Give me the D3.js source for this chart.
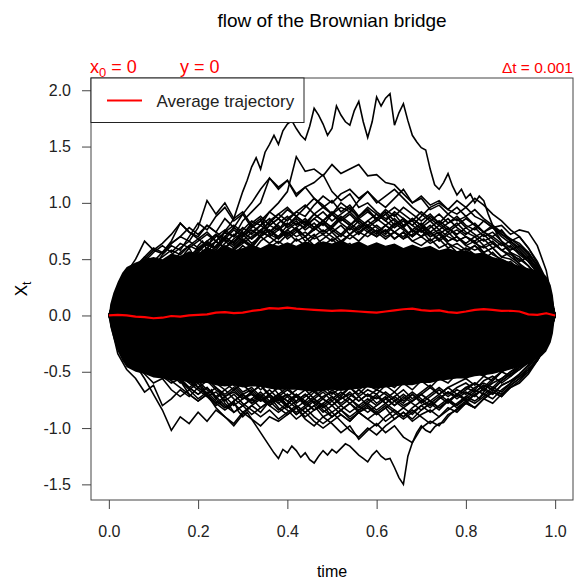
<!DOCTYPE html>
<html>
<head>
<meta charset="utf-8">
<script src="https://cdn.jsdelivr.net/npm/d3@7"></script>
<style>
  html, body { margin: 0; padding: 0; background: #fff; }
  svg { display: block; font-family: "Liberation Sans", Arial, sans-serif; }
</style>
</head>
<body>
<svg id="chart" width="579" height="581"></svg>
<script>
// ---- axis ticks ----
const xTicks = [0, 0.2, 0.4, 0.6, 0.8, 1.0];
const yTicks = [-1.5, -1.0, -0.5, 0, 0.5, 1.0, 1.5, 2.0];

// ---- dense core of the bundle: upper / lower edge of the solid band ----
const coreTime = [0, 0.003, 0.01, 0.02, 0.03, 0.04,
  0.06, 0.08, 0.10, 0.12, 0.14, 0.16, 0.18, 0.20, 0.22, 0.24,
  0.26, 0.28, 0.30, 0.32, 0.34, 0.36, 0.38, 0.40, 0.42, 0.44,
  0.46, 0.48, 0.50, 0.52, 0.54, 0.56, 0.58, 0.60, 0.62, 0.64,
  0.66, 0.68, 0.70, 0.72, 0.74, 0.76, 0.78, 0.80, 0.82, 0.84,
  0.86, 0.88, 0.90, 0.92, 0.94, 0.96,
  0.97, 0.98, 0.99, 0.995, 1];
const coreUpper = [0, 0.1, 0.2, 0.3, 0.38, 0.43,
  0.47, 0.5, 0.52, 0.5, 0.55, 0.53, 0.57, 0.55, 0.6, 0.58,
  0.62, 0.58, 0.6, 0.63, 0.6, 0.64, 0.62, 0.65, 0.62, 0.66,
  0.63, 0.66, 0.64, 0.67, 0.63, 0.66, 0.62, 0.65, 0.62, 0.64,
  0.6, 0.63, 0.6, 0.62, 0.58, 0.6, 0.57, 0.58, 0.55, 0.56,
  0.52, 0.5, 0.47, 0.44, 0.42, 0.4,
  0.38, 0.35, 0.27, 0.18, 0];
const coreLower = [0, -0.1, -0.2, -0.32, -0.4, -0.46,
  -0.5, -0.52, -0.55, -0.56, -0.58, -0.57, -0.6, -0.6, -0.6, -0.62,
  -0.63, -0.62, -0.64, -0.63, -0.63, -0.65, -0.66, -0.66, -0.66, -0.67,
  -0.68, -0.67, -0.66, -0.67, -0.66, -0.65, -0.64, -0.65, -0.64, -0.63,
  -0.62, -0.62, -0.6, -0.6, -0.58, -0.57, -0.56, -0.56, -0.54, -0.53,
  -0.52, -0.5, -0.48, -0.46, -0.43, -0.38,
  -0.36, -0.32, -0.24, -0.16, 0];

// ---- the two extreme trajectories, sampled every 0.01 ----
const highestPath = [
  0, 0.08, 0.05, 0.14, 0.2, 0.15, 0.24, 0.3, 0.26, 0.34,
  0.4, 0.35, 0.42, 0.48, 0.43, 0.52, 0.46, 0.55, 0.6, 0.53,
  0.62, 0.66, 0.58, 0.68, 0.72, 0.66, 0.75, 0.8, 0.86, 0.98,
  1.1, 1.2, 1.32, 1.4, 1.3, 1.45, 1.52, 1.6, 1.52, 1.64,
  1.7, 1.73, 1.66, 1.6, 1.56, 1.68, 1.84, 1.78, 1.7, 1.6,
  1.66, 1.86, 1.78, 1.72, 1.69, 1.82, 1.9, 1.72, 1.58, 1.72,
  1.94, 1.86, 1.93, 1.97, 1.69, 1.8, 1.88, 1.73, 1.6, 1.54,
  1.49, 1.47, 1.3, 1.16, 1.12, 1.18, 1.26, 1.15, 1.07, 1.12,
  1.04, 1.08, 1.0, 1.06, 1.02, 0.9, 0.8, 0.72, 0.66, 0.6,
  0.56, 0.5, 0.46, 0.4, 0.35, 0.3, 0.28, 0.2, 0.16, 0.08,
  0];
const lowestPath = [
  0, -0.06, -0.12, -0.08, -0.16, -0.22, -0.18, -0.28, -0.32, -0.26,
  -0.34, -0.4, -0.36, -0.44, -0.5, -0.46, -0.55, -0.5, -0.58, -0.62,
  -0.56, -0.64, -0.7, -0.66, -0.74, -0.7, -0.78, -0.82, -0.76, -0.85,
  -0.9, -0.86, -0.92, -0.98, -1.04, -1.1, -1.16, -1.22, -1.27, -1.19,
  -1.22, -1.16, -1.2, -1.26, -1.22, -1.28, -1.31, -1.25, -1.2, -1.24,
  -1.19, -1.22, -1.18, -1.14, -1.16, -1.2, -1.24, -1.27, -1.3, -1.24,
  -1.2, -1.25, -1.28, -1.27, -1.35, -1.44, -1.5, -1.25, -1.13, -1.04,
  -0.98, -1.02, -1.04, -0.99, -0.96, -0.95, -0.9, -0.86, -0.83, -0.8,
  -0.78, -0.74, -0.7, -0.74, -0.68, -0.62, -0.58, -0.54, -0.5, -0.46,
  -0.42, -0.4, -0.36, -0.32, -0.28, -0.24, -0.2, -0.16, -0.1, -0.05,
  0];

// ---- trajectories above the core, sampled every 0.02 ----
const upperPaths = [
  [0, 0.22, 0.3, 0.42, 0.5, 0.58, 0.55, 0.64, 0.7, 0.66,
   0.78, 1.02, 0.9, 1.0, 0.86, 0.92, 0.8, 0.86, 0.74, 0.8,
   0.7, 0.76, 0.66, 0.72, 0.62, 0.68, 0.6, 0.64, 0.55, 0.6,
   0.5, 0.56, 0.48, 0.52, 0.44, 0.5, 0.42, 0.46, 0.38, 0.44,
   0.36, 0.4, 0.32, 0.36, 0.28, 0.3, 0.22, 0.26, 0.18, 0.12, 0],
  [0, 0.18, 0.34, 0.4, 0.52, 0.6, 0.56, 0.66, 0.82, 0.74,
   0.7, 0.8, 0.74, 0.86, 0.78, 0.9, 1.0, 1.12, 1.22, 1.14,
   1.2, 1.08, 1.14, 1.04, 0.96, 1.02, 0.92, 0.98, 0.88, 0.94,
   0.84, 0.9, 0.8, 0.86, 0.74, 0.8, 0.7, 0.74, 0.66, 0.7,
   0.62, 0.66, 0.56, 0.6, 0.52, 0.5, 0.44, 0.4, 0.32, 0.24, 0],
  [0, 0.1, 0.2, 0.16, 0.28, 0.36, 0.3, 0.42, 0.5, 0.46,
   0.56, 0.52, 0.62, 0.7, 0.64, 0.76, 0.84, 0.8, 0.92, 1.0,
   1.1, 1.41, 1.28, 1.3, 1.24, 1.34, 1.26, 1.3, 1.34, 1.24,
   1.25, 1.18, 1.16, 1.08, 1.0, 1.04, 0.94, 0.98, 0.9, 0.84,
   0.88, 0.8, 0.74, 0.78, 0.7, 0.64, 0.56, 0.5, 0.4, 0.28, 0],
  [0, 0.14, 0.26, 0.2, 0.32, 0.4, 0.36, 0.46, 0.42, 0.52,
   0.6, 0.56, 0.66, 0.74, 0.7, 0.84, 0.92, 1.0, 1.22, 1.12,
   1.2, 1.06, 1.14, 1.18, 1.25, 1.1, 1.02, 1.08, 0.96, 1.0,
   0.92, 0.86, 0.9, 0.8, 0.84, 0.76, 0.7, 0.74, 0.66, 0.7,
   0.62, 0.58, 0.62, 0.54, 0.5, 0.46, 0.4, 0.36, 0.3, 0.2, 0],
  [0, -0.05, 0.06, 0.14, 0.1, 0.2, 0.28, 0.24, 0.34, 0.4,
   0.36, 0.46, 0.52, 0.48, 0.58, 0.66, 0.62, 0.72, 0.8, 0.76,
   0.86, 0.92, 0.88, 0.98, 1.06, 1.0, 1.08, 1.12, 1.04, 1.1,
   1.02, 0.96, 1.04, 1.12, 1.0, 1.06, 0.98, 1.02, 0.94, 0.9,
   0.96, 0.88, 0.84, 0.78, 0.8, 0.72, 0.76, 0.74, 0.62, 0.4, 0],
  [0, 0.2, 0.28, 0.36, 0.46, 0.42, 0.54, 0.62, 0.58, 0.7,
   0.82, 0.76, 0.88, 0.96, 0.84, 0.9, 0.78, 0.84, 0.72, 0.78,
   0.68, 0.74, 0.8, 0.86, 0.92, 0.84, 0.9, 0.96, 0.86, 0.8,
   0.74, 0.8, 0.86, 0.78, 0.7, 0.76, 0.66, 0.72, 0.64, 0.6,
   0.56, 0.62, 0.54, 0.5, 0.44, 0.48, 0.4, 0.34, 0.26, 0.16, 0],
  [0, 0.12, 0.08, 0.2, 0.26, 0.22, 0.32, 0.38, 0.34, 0.44,
   0.5, 0.46, 0.56, 0.5, 0.6, 0.66, 0.6, 0.7, 0.76, 0.7,
   0.8, 0.86, 0.8, 0.9, 0.96, 0.9, 1.0, 0.94, 0.88, 0.96,
   0.9, 0.84, 0.92, 0.86, 0.8, 0.88, 0.96, 1.0, 0.94, 1.02,
   0.96, 1.04, 0.98, 0.9, 0.84, 0.76, 0.7, 0.6, 0.46, 0.3, 0],
  [0, 0.08, 0.16, 0.24, 0.2, 0.3, 0.38, 0.46, 0.4, 0.5,
   0.56, 0.64, 0.58, 0.68, 0.62, 0.7, 0.76, 0.7, 0.8, 0.86,
   0.78, 0.84, 0.76, 0.82, 0.74, 0.8, 0.88, 0.82, 0.76, 0.84,
   0.78, 0.72, 0.8, 0.86, 0.8, 0.74, 0.8, 0.72, 0.78, 0.7,
   0.64, 0.7, 0.62, 0.66, 0.58, 0.62, 0.54, 0.48, 0.38, 0.26, 0],
  [0, 0.26, 0.38, 0.5, 0.66, 0.58, 0.64, 0.72, 0.82, 0.74,
   0.68, 0.74, 0.66, 0.6, 0.66, 0.72, 0.64, 0.7, 0.76, 0.68,
   0.74, 0.66, 0.7, 0.62, 0.68, 0.74, 0.66, 0.72, 0.8, 0.74,
   0.7, 0.76, 0.68, 0.74, 0.66, 0.7, 0.64, 0.68, 0.6, 0.64,
   0.58, 0.62, 0.56, 0.6, 0.52, 0.56, 0.48, 0.52, 0.4, 0.3, 0],
  [0, 0.04, 0.14, 0.1, 0.2, 0.16, 0.26, 0.34, 0.3, 0.4,
   0.46, 0.42, 0.5, 0.58, 0.54, 0.62, 0.56, 0.66, 0.72, 0.68,
   0.76, 0.82, 0.78, 0.86, 0.8, 0.9, 0.96, 0.92, 1.02, 1.1,
   1.0, 1.06, 1.12, 1.04, 0.96, 0.9, 0.84, 0.9, 0.82, 0.86,
   0.78, 0.82, 0.74, 0.7, 0.76, 0.66, 0.6, 0.52, 0.42, 0.28, 0],
  [0, 0.1, 0.18, 0.12, 0.22, 0.3, 0.26, 0.36, 0.3, 0.4,
   0.36, 0.44, 0.5, 0.46, 0.54, 0.5, 0.58, 0.52, 0.6, 0.66,
   0.6, 0.68, 0.62, 0.7, 0.76, 0.7, 0.64, 0.72, 0.66, 0.74,
   0.8, 0.74, 0.82, 0.76, 0.7, 0.78, 0.84, 0.76, 0.82, 0.88,
   0.8, 0.76, 0.84, 0.78, 0.72, 0.68, 0.62, 0.56, 0.44, 0.3, 0],
  [0, 0.16, 0.24, 0.32, 0.28, 0.4, 0.48, 0.44, 0.56, 0.62,
   0.58, 0.66, 0.6, 0.7, 0.78, 0.72, 0.82, 0.88, 0.8, 0.86,
   0.94, 0.88, 0.96, 1.04, 0.98, 0.9, 0.84, 0.9, 0.82, 0.76,
   0.7, 0.76, 0.68, 0.74, 0.66, 0.62, 0.68, 0.6, 0.64, 0.56,
   0.6, 0.54, 0.5, 0.56, 0.48, 0.44, 0.4, 0.36, 0.28, 0.18, 0],
  [0, 0.14, 0.22, 0.3, 0.38, 0.46, 0.52, 0.58, 0.54, 0.62,
   0.68, 0.62, 0.7, 0.76, 0.7, 0.78, 0.72, 0.8, 0.74, 0.82,
   0.88, 0.8, 0.86, 0.78, 0.84, 0.9, 0.82, 0.76, 0.84, 0.78,
   0.72, 0.8, 0.74, 0.68, 0.76, 0.82, 0.74, 0.68, 0.74, 0.66,
   0.7, 0.64, 0.68, 0.6, 0.64, 0.56, 0.52, 0.44, 0.36, 0.24, 0],
  [0, 0.06, 0.12, 0.22, 0.3, 0.26, 0.36, 0.42, 0.5, 0.46,
   0.54, 0.6, 0.66, 0.6, 0.68, 0.74, 0.68, 0.76, 0.82, 0.9,
   0.84, 0.92, 0.98, 0.9, 0.84, 0.92, 0.86, 0.8, 0.88, 0.94,
   0.86, 0.92, 0.84, 0.78, 0.86, 0.8, 0.74, 0.8, 0.86, 0.78,
   0.72, 0.78, 0.7, 0.74, 0.66, 0.6, 0.56, 0.48, 0.38, 0.26, 0],
  [0, 0.2, 0.32, 0.42, 0.48, 0.56, 0.62, 0.56, 0.64, 0.6,
   0.66, 0.72, 0.66, 0.74, 0.8, 0.74, 0.68, 0.74, 0.7, 0.64,
   0.72, 0.78, 0.84, 0.78, 0.72, 0.78, 0.72, 0.8, 0.86, 0.92,
   0.86, 0.94, 0.88, 0.96, 0.9, 0.84, 0.9, 0.82, 0.76, 0.82,
   0.74, 0.7, 0.74, 0.68, 0.62, 0.66, 0.58, 0.5, 0.42, 0.28, 0],
  [0, 0.1, 0.2, 0.28, 0.36, 0.32, 0.42, 0.5, 0.46, 0.56,
   0.52, 0.6, 0.56, 0.64, 0.72, 0.66, 0.74, 0.8, 0.86, 0.78,
   0.72, 0.78, 0.7, 0.76, 0.82, 0.76, 0.7, 0.78, 0.72, 0.8,
   0.86, 0.8, 0.74, 0.7, 0.76, 0.7, 0.78, 0.84, 0.78, 0.72,
   0.78, 0.72, 0.66, 0.7, 0.64, 0.58, 0.62, 0.54, 0.44, 0.3, 0],
  [0, 0.24, 0.34, 0.44, 0.52, 0.48, 0.56, 0.64, 0.7, 0.78,
   0.72, 0.8, 0.74, 0.68, 0.76, 0.7, 0.78, 0.84, 0.92, 0.86,
   0.8, 0.88, 0.82, 0.76, 0.82, 0.74, 0.8, 0.72, 0.78, 0.84,
   0.9, 0.84, 0.78, 0.84, 0.76, 0.7, 0.74, 0.66, 0.72, 0.76,
   0.7, 0.66, 0.72, 0.64, 0.58, 0.52, 0.46, 0.4, 0.32, 0.2, 0],
  [0, 0.08, 0.18, 0.14, 0.24, 0.34, 0.3, 0.4, 0.48, 0.44,
   0.52, 0.58, 0.54, 0.62, 0.58, 0.64, 0.7, 0.76, 0.7, 0.76,
   0.82, 0.76, 0.7, 0.78, 0.84, 0.78, 0.86, 0.92, 0.84, 0.78,
   0.84, 0.9, 0.96, 0.9, 0.84, 0.92, 0.86, 0.8, 0.74, 0.8,
   0.86, 0.8, 0.74, 0.8, 0.72, 0.66, 0.7, 0.6, 0.48, 0.32, 0],
  [0, 0.18, 0.28, 0.36, 0.44, 0.5, 0.46, 0.54, 0.6, 0.66,
   0.6, 0.66, 0.72, 0.66, 0.6, 0.68, 0.62, 0.7, 0.64, 0.7,
   0.76, 0.7, 0.74, 0.68, 0.72, 0.66, 0.72, 0.68, 0.74, 0.7,
   0.76, 0.7, 0.74, 0.68, 0.72, 0.78, 0.72, 0.76, 0.7, 0.66,
   0.7, 0.64, 0.6, 0.64, 0.58, 0.54, 0.5, 0.44, 0.34, 0.22, 0],
  [0, 0.12, 0.24, 0.2, 0.3, 0.38, 0.34, 0.44, 0.52, 0.48,
   0.58, 0.64, 0.6, 0.7, 0.64, 0.72, 0.8, 0.74, 0.84, 0.9,
   0.96, 0.88, 0.82, 0.9, 0.84, 0.78, 0.86, 0.8, 0.74, 0.8,
   0.74, 0.68, 0.74, 0.8, 0.86, 0.8, 0.88, 0.82, 0.9, 0.96,
   0.88, 0.94, 0.86, 0.8, 0.74, 0.68, 0.64, 0.56, 0.44, 0.3, 0]
];

// ---- trajectories below the core, sampled every 0.02 ----
const lowerPaths = [
  [0, -0.16, -0.3, -0.44, -0.56, -0.7, -0.84, -1.02, -0.9, -0.96,
   -0.86, -0.94, -0.84, -0.9, -0.98, -0.88, -0.8, -0.86, -0.76, -0.7,
   -0.8, -0.7, -0.76, -0.68, -0.74, -0.66, -0.72, -0.64, -0.7, -0.62,
   -0.66, -0.6, -0.64, -0.56, -0.6, -0.52, -0.56, -0.5, -0.54, -0.46,
   -0.5, -0.44, -0.46, -0.4, -0.42, -0.36, -0.3, -0.26, -0.2, -0.12, 0],
  [0, -0.1, -0.2, -0.16, -0.3, -0.4, -0.48, -0.44, -0.58, -0.7,
   -0.76, -0.7, -0.82, -0.9, -0.96, -0.86, -0.92, -0.98, -0.9, -0.94,
   -0.88, -0.82, -0.9, -0.84, -0.78, -0.86, -0.8, -0.74, -0.82, -0.76,
   -0.7, -0.78, -0.72, -0.66, -0.74, -0.68, -0.62, -0.7, -0.64, -0.6,
   -0.56, -0.62, -0.54, -0.58, -0.5, -0.46, -0.4, -0.34, -0.26, -0.16, 0],
  [0, -0.34, -0.48, -0.56, -0.68, -0.62, -0.8, -0.74, -0.66, -0.72,
   -0.64, -0.7, -0.78, -0.72, -0.8, -0.74, -0.68, -0.76, -0.7, -0.64,
   -0.72, -0.66, -0.6, -0.68, -0.62, -0.7, -0.64, -0.58, -0.66, -0.6,
   -0.56, -0.62, -0.58, -0.52, -0.6, -0.54, -0.5, -0.56, -0.5, -0.46,
   -0.52, -0.46, -0.42, -0.48, -0.4, -0.36, -0.4, -0.32, -0.26, -0.18, 0],
  [0, -0.08, -0.16, -0.12, -0.22, -0.3, -0.26, -0.36, -0.42, -0.38,
   -0.48, -0.54, -0.5, -0.6, -0.66, -0.6, -0.7, -0.76, -0.72, -0.82,
   -0.88, -0.82, -0.92, -0.98, -0.9, -0.96, -1.04, -0.98, -1.1, -1.02,
   -0.96, -1.04, -0.98, -1.08, -1.13, -1.0, -0.94, -0.98, -0.88, -0.84,
   -0.78, -0.82, -0.74, -0.68, -0.72, -0.62, -0.56, -0.48, -0.38, -0.24, 0],
  [0, -0.12, -0.06, -0.18, -0.24, -0.2, -0.3, -0.36, -0.32, -0.42,
   -0.38, -0.46, -0.52, -0.48, -0.56, -0.62, -0.58, -0.66, -0.6, -0.7,
   -0.76, -0.7, -0.78, -0.84, -0.8, -0.9, -0.84, -0.92, -0.86, -0.8,
   -0.88, -0.82, -0.92, -0.86, -0.94, -0.88, -0.84, -0.9, -0.82, -0.86,
   -0.78, -0.82, -0.74, -0.78, -0.7, -0.64, -0.6, -0.52, -0.4, -0.26, 0],
  [0, -0.04, -0.12, -0.2, -0.16, -0.26, -0.22, -0.3, -0.38, -0.34,
   -0.44, -0.5, -0.46, -0.56, -0.62, -0.7, -0.66, -0.74, -0.8, -0.74,
   -0.82, -0.76, -0.7, -0.78, -0.86, -0.8, -0.88, -0.94, -0.86, -0.92,
   -0.98, -0.9, -0.84, -0.9, -0.82, -0.76, -0.82, -0.74, -0.68, -0.72,
   -0.66, -0.6, -0.64, -0.56, -0.5, -0.54, -0.46, -0.4, -0.32, -0.2, 0],
  [0, -0.18, -0.28, -0.36, -0.3, -0.42, -0.5, -0.46, -0.58, -0.66,
   -0.6, -0.72, -0.8, -0.74, -0.86, -0.8, -0.88, -0.82, -0.76, -0.84,
   -0.78, -0.72, -0.8, -0.74, -0.68, -0.76, -0.7, -0.64, -0.72, -0.66,
   -0.7, -0.62, -0.68, -0.6, -0.66, -0.58, -0.64, -0.56, -0.6, -0.52,
   -0.56, -0.5, -0.54, -0.46, -0.5, -0.42, -0.36, -0.3, -0.24, -0.14, 0],
  [0, -0.1, -0.06, -0.16, -0.24, -0.18, -0.28, -0.34, -0.3, -0.4,
   -0.46, -0.42, -0.52, -0.58, -0.52, -0.62, -0.68, -0.62, -0.72, -0.78,
   -0.72, -0.8, -0.86, -0.8, -0.9, -0.86, -0.94, -1.02, -1.08, -1.0,
   -1.06, -0.98, -0.92, -0.86, -0.92, -0.84, -0.78, -0.84, -0.76, -0.7,
   -0.74, -0.68, -0.62, -0.66, -0.58, -0.52, -0.46, -0.42, -0.34, -0.22, 0],
  [0, -0.2, -0.32, -0.26, -0.38, -0.46, -0.42, -0.52, -0.6, -0.54,
   -0.64, -0.58, -0.66, -0.72, -0.66, -0.74, -0.68, -0.62, -0.7, -0.76,
   -0.7, -0.78, -0.72, -0.66, -0.74, -0.8, -0.74, -0.68, -0.76, -0.7,
   -0.78, -0.72, -0.8, -0.74, -0.68, -0.74, -0.8, -0.74, -0.68, -0.74,
   -0.68, -0.72, -0.64, -0.7, -0.62, -0.58, -0.52, -0.44, -0.36, -0.24, 0],
  [0, -0.06, -0.16, -0.26, -0.34, -0.44, -0.38, -0.5, -0.56, -0.64,
   -0.7, -0.64, -0.74, -0.82, -0.76, -0.7, -0.78, -0.72, -0.66, -0.74,
   -0.8, -0.88, -0.82, -0.9, -0.96, -0.9, -0.84, -0.9, -0.84, -0.78,
   -0.84, -0.78, -0.72, -0.78, -0.7, -0.76, -0.7, -0.64, -0.7, -0.64,
   -0.6, -0.66, -0.58, -0.54, -0.6, -0.54, -0.48, -0.4, -0.3, -0.18, 0],
  [0, -0.14, -0.24, -0.32, -0.4, -0.48, -0.54, -0.6, -0.56, -0.64,
   -0.7, -0.64, -0.72, -0.66, -0.74, -0.8, -0.74, -0.82, -0.76, -0.7,
   -0.76, -0.82, -0.76, -0.84, -0.78, -0.72, -0.8, -0.86, -0.8, -0.74,
   -0.8, -0.74, -0.68, -0.76, -0.7, -0.78, -0.72, -0.66, -0.72, -0.66,
   -0.7, -0.64, -0.6, -0.64, -0.56, -0.5, -0.46, -0.4, -0.3, -0.2, 0],
  [0, -0.08, -0.18, -0.26, -0.22, -0.32, -0.4, -0.46, -0.42, -0.52,
   -0.6, -0.56, -0.64, -0.7, -0.64, -0.72, -0.78, -0.72, -0.8, -0.86,
   -0.8, -0.88, -0.82, -0.76, -0.84, -0.9, -0.84, -0.78, -0.86, -0.92,
   -0.86, -0.94, -0.88, -0.82, -0.88, -0.8, -0.76, -0.82, -0.76, -0.7,
   -0.76, -0.7, -0.66, -0.7, -0.62, -0.58, -0.54, -0.46, -0.36, -0.24, 0],
  [0, -0.22, -0.34, -0.44, -0.52, -0.6, -0.56, -0.66, -0.72, -0.66,
   -0.74, -0.68, -0.76, -0.82, -0.76, -0.7, -0.76, -0.7, -0.78, -0.72,
   -0.66, -0.72, -0.66, -0.74, -0.8, -0.74, -0.68, -0.74, -0.8, -0.86,
   -0.8, -0.74, -0.8, -0.72, -0.78, -0.84, -0.78, -0.72, -0.78, -0.7,
   -0.64, -0.68, -0.62, -0.66, -0.58, -0.52, -0.48, -0.42, -0.34, -0.22, 0],
  [0, -0.04, -0.1, -0.18, -0.26, -0.32, -0.28, -0.38, -0.44, -0.5,
   -0.46, -0.54, -0.6, -0.66, -0.6, -0.68, -0.64, -0.72, -0.78, -0.72,
   -0.8, -0.86, -0.8, -0.74, -0.82, -0.76, -0.84, -0.78, -0.72, -0.8,
   -0.86, -0.8, -0.86, -0.92, -0.86, -0.8, -0.86, -0.8, -0.74, -0.8,
   -0.74, -0.78, -0.72, -0.66, -0.7, -0.62, -0.56, -0.5, -0.38, -0.26, 0],
  [0, -0.18, -0.3, -0.38, -0.46, -0.42, -0.52, -0.58, -0.64, -0.7,
   -0.76, -0.7, -0.78, -0.84, -0.78, -0.86, -0.8, -0.74, -0.8, -0.74,
   -0.7, -0.76, -0.7, -0.78, -0.72, -0.68, -0.74, -0.7, -0.76, -0.7,
   -0.74, -0.68, -0.74, -0.8, -0.76, -0.7, -0.76, -0.82, -0.76, -0.8,
   -0.72, -0.66, -0.7, -0.64, -0.68, -0.6, -0.54, -0.48, -0.4, -0.26, 0],
  [0, -0.1, -0.2, -0.3, -0.36, -0.44, -0.5, -0.46, -0.54, -0.6,
   -0.66, -0.72, -0.68, -0.76, -0.7, -0.78, -0.84, -0.9, -0.84, -0.92,
   -0.86, -0.8, -0.86, -0.8, -0.74, -0.8, -0.72, -0.78, -0.84, -0.78,
   -0.72, -0.78, -0.84, -0.9, -0.84, -0.9, -0.96, -0.9, -0.84, -0.78,
   -0.72, -0.76, -0.7, -0.74, -0.66, -0.6, -0.52, -0.44, -0.34, -0.2, 0],
  [0, -0.16, -0.26, -0.2, -0.3, -0.38, -0.44, -0.52, -0.48, -0.58,
   -0.64, -0.7, -0.64, -0.72, -0.68, -0.74, -0.7, -0.76, -0.7, -0.78,
   -0.84, -0.92, -0.86, -0.94, -1.0, -0.94, -0.88, -0.94, -0.86, -0.82,
   -0.88, -0.82, -0.76, -0.82, -0.76, -0.7, -0.76, -0.7, -0.64, -0.7,
   -0.64, -0.6, -0.66, -0.6, -0.56, -0.5, -0.44, -0.36, -0.28, -0.16, 0],
  [0, -0.12, -0.22, -0.3, -0.38, -0.34, -0.44, -0.52, -0.58, -0.64,
   -0.58, -0.66, -0.72, -0.8, -0.86, -0.8, -0.74, -0.68, -0.76, -0.7,
   -0.64, -0.72, -0.78, -0.72, -0.66, -0.72, -0.78, -0.72, -0.66, -0.72,
   -0.66, -0.7, -0.76, -0.7, -0.76, -0.7, -0.64, -0.7, -0.76, -0.82,
   -0.76, -0.82, -0.74, -0.68, -0.72, -0.64, -0.58, -0.5, -0.4, -0.28, 0]
];

// ---- mean over all trajectories, sampled every 0.02 ----
const averagePath = [
  0, 0.005, 0.0, -0.01, -0.015, -0.025, -0.02, -0.005, -0.01, 0.0,
  0.005, 0.01, 0.025, 0.03, 0.02, 0.025, 0.04, 0.05, 0.065, 0.06,
  0.07, 0.06, 0.055, 0.05, 0.045, 0.04, 0.045, 0.04, 0.035, 0.03,
  0.025, 0.035, 0.045, 0.055, 0.06, 0.047, 0.04, 0.045, 0.03, 0.023,
  0.035, 0.05, 0.056, 0.05, 0.04, 0.042, 0.035, 0.01, 0.005, 0.02,
  0];

// ---- labels ----
const titleText = "flow of the Brownian bridge";
const xLabel = "time";
const legendLabel = "Average trajectory";
const dtLabel = "\u0394t = 0.001";

// ---------------------------------------------------------------
const svg = d3.select("#chart");
const W = 579, H = 581;
const plot = { left: 91, right: 573, top: 78, bottom: 500 };

// value range of every drawn path, padded 4% on each side
const allValues = [].concat(highestPath, lowestPath, coreUpper, coreLower,
  ...upperPaths, ...lowerPaths);
const [vmin, vmax] = d3.extent(allValues);
const pad = (vmax - vmin) * 0.04;

const x = d3.scaleLinear().domain([-0.04, 1.04]).range([plot.left, plot.right]);
const y = d3.scaleLinear().domain([vmin - pad, vmax + pad]).range([plot.bottom, plot.top]);

svg.append("rect").attr("width", W).attr("height", H).attr("fill", "#fff");

svg.append("defs").append("clipPath").attr("id", "plotClip")
  .append("rect")
  .attr("x", plot.left).attr("y", plot.top)
  .attr("width", plot.right - plot.left).attr("height", plot.bottom - plot.top);

const g = svg.append("g").attr("clip-path", "url(#plotClip)");

// solid core band
const coreArea = d3.area()
  .x((d, i) => x(coreTime[i]))
  .y0((d, i) => y(coreLower[i]))
  .y1((d, i) => y(coreUpper[i]));
g.append("path").datum(coreUpper).attr("d", coreArea).attr("fill", "#000");

// individual trajectories, time running evenly from 0 to 1
const pathLine = d3.line()
  .x((d, i, arr) => x(i / (arr.length - 1)))
  .y(d => y(d));

const blackPaths = [...upperPaths, ...lowerPaths, highestPath, lowestPath];
g.selectAll("path.traj").data(blackPaths).join("path")
  .attr("class", "traj")
  .attr("d", pathLine)
  .attr("fill", "none")
  .attr("stroke", "#000")
  .attr("stroke-width", 1.6)
  .attr("stroke-linejoin", "miter");

// average trajectory
g.append("path").datum(averagePath)
  .attr("d", pathLine)
  .attr("fill", "none")
  .attr("stroke", "#ff0000")
  .attr("stroke-width", 2.2)
  .attr("stroke-linejoin", "round");

// ---- axes ----
const axisColor = "#444";
const fmt = d => d.toFixed(1);

const yAxis = svg.append("g")
  .attr("transform", `translate(${plot.left},0)`)
  .call(d3.axisLeft(y).tickValues(yTicks).tickFormat(fmt).tickSize(9).tickPadding(11));
const xAxis = svg.append("g")
  .attr("transform", `translate(0,${plot.bottom})`)
  .call(d3.axisBottom(x).tickValues(xTicks).tickFormat(fmt).tickSize(9).tickPadding(17));

[xAxis, yAxis].forEach(a => {
  a.select(".domain").remove();
  a.selectAll(".tick line").attr("stroke", axisColor).attr("stroke-width", 1);
  a.selectAll(".tick text")
    .attr("fill", "#222")
    .style("font-size", "16px")
    .style("font-family", '"Liberation Sans", Arial, sans-serif');
});

// plot frame
svg.append("rect")
  .attr("x", plot.left).attr("y", plot.top)
  .attr("width", plot.right - plot.left).attr("height", plot.bottom - plot.top)
  .attr("fill", "none").attr("stroke", axisColor).attr("stroke-width", 1);

// ---- titles ----
const midX = (plot.left + plot.right) / 2;
svg.append("text").attr("x", midX).attr("y", 27)
  .attr("text-anchor", "middle").style("font-size", "19px").attr("fill", "#000")
  .text(titleText);

svg.append("text").attr("x", midX).attr("y", 577)
  .attr("text-anchor", "middle").style("font-size", "16px").attr("fill", "#000")
  .text(xLabel);

const yLab = svg.append("text")
  .attr("transform", `translate(27,${(plot.top + plot.bottom) / 2}) rotate(-90)`)
  .attr("text-anchor", "middle").style("font-size", "17px").attr("fill", "#000");
yLab.append("tspan").text("X");
yLab.append("tspan").attr("dy", 4).style("font-size", "12px").text("t");

// red annotations above the frame
const red = "#ff0000";
const x0Lab = svg.append("text").attr("x", 90).attr("y", 72.5)
  .style("font-size", "18px").attr("fill", red);
x0Lab.append("tspan").text("x");
x0Lab.append("tspan").attr("dy", 4).style("font-size", "13px").text("0");
x0Lab.append("tspan").attr("dy", -4).text(" = 0");

svg.append("text").attr("x", 180).attr("y", 72.5)
  .style("font-size", "18px").attr("fill", red).text("y = 0");

svg.append("text").attr("x", plot.right).attr("y", 72.5)
  .attr("text-anchor", "end").style("font-size", "15.5px").attr("fill", red)
  .text(dtLabel);

// ---- legend ----
const legend = svg.append("g");
legend.append("rect")
  .attr("x", plot.left).attr("y", plot.top)
  .attr("width", 213).attr("height", 44.5)
  .attr("fill", "#fff").attr("stroke", "#222").attr("stroke-width", 1);
legend.append("line")
  .attr("x1", 107).attr("x2", 142).attr("y1", 100.5).attr("y2", 100.5)
  .attr("stroke", red).attr("stroke-width", 2);
legend.append("text").attr("x", 156.5).attr("y", 107)
  .style("font-size", "17px").attr("fill", "#222").text(legendLabel);
</script>
</body>
</html>
